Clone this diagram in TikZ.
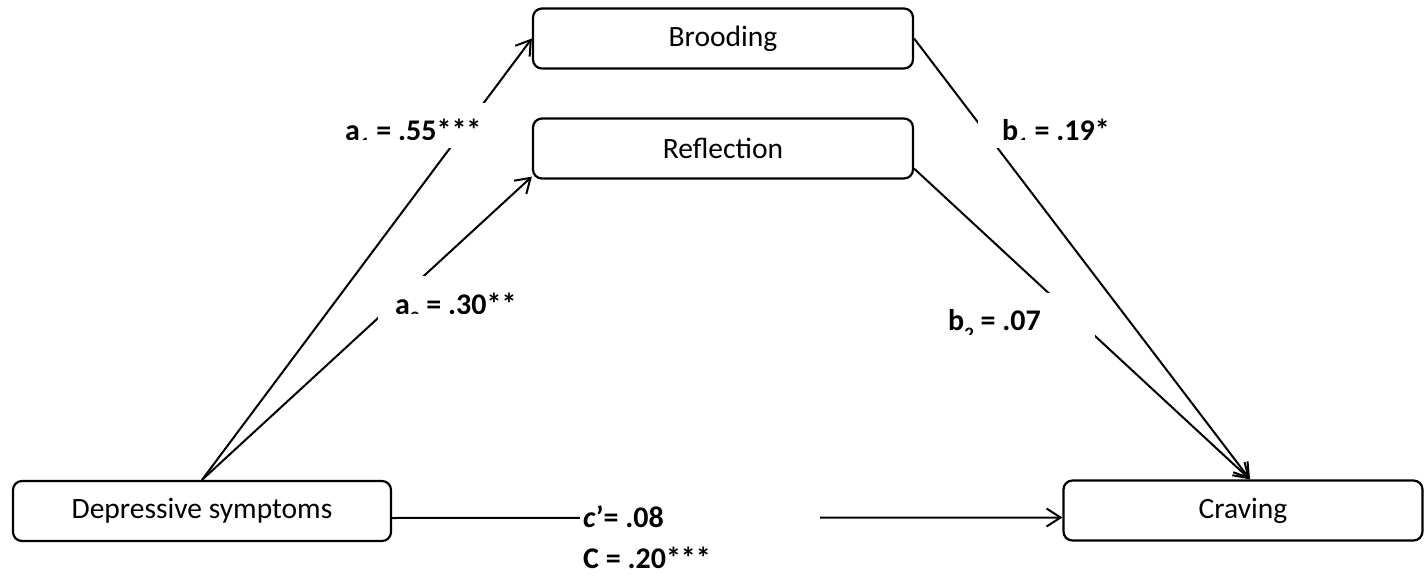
\documentclass[tikz,border=0pt]{standalone}
\usepackage{fontspec}
\setmainfont{Carlito}
\usetikzlibrary{arrows.meta,calc}
\newcommand\lsub[1]{\raisebox{-10pt}{\fontsize{19}{20}\selectfont #1}}
\begin{document}
\begin{tikzpicture}[x=1pt,y=-1pt,
  box/.style={draw,line width=2.2pt,rounded corners=9pt,minimum height=60pt,inner sep=0pt,font=\fontsize{29.5}{31}\selectfont},
  conn/.style={line width=2pt,-{Straight Barb[length=14pt,width=18pt,line width=2pt]}},
  lbl/.style={anchor=base west,inner sep=0pt,font=\bfseries\fontsize{30}{32}\selectfont},
  mask/.style={fill=white}]
\useasboundingbox (0,0) rectangle (1425,583);
\node[box,minimum width=378pt] (dep) at (202,511) {Depressive symptoms};
\node[box,minimum width=380pt] (brood) at (723,38.5) {Brooding};
\node[box,minimum width=380pt] (refl) at (723,148.5) {Reflection};
\node[box,minimum width=359pt] (crav) at (1243,510.5) {Craving};
\coordinate (ctop) at ($(crav.north)+(7,0)$);
\draw[conn] (dep.north) -- (brood.west);
\draw[conn] (dep.north) -- ($(refl.south west)+(0,-3)$);
\draw[conn] (brood.east) -- (ctop);
\draw[conn] ($(refl.south east)+(0,-11)$) -- (ctop);
\draw[conn] ($(dep.east)+(0,7)$) -- ($(crav.west)+(0,7)$);
% a1
\fill[mask] (338,103) rectangle (493,148);
\begin{scope}\clip (338,103) rectangle (493,140);
\node[lbl] (la1) at (345,141) {a\lsub{1} = .55***};\end{scope}
% b1
\fill[mask] (978,103) rectangle (1130,148);
\begin{scope}\clip (978,103) rectangle (1130,140);
\node[lbl] (lb1) at (1002,141) {b\lsub{1} = .19*};\end{scope}
% a2
\fill[mask] (378,276) rectangle (520,321);
\begin{scope}\clip (378,276) rectangle (520,313);
\node[lbl] (la2) at (395,314) {a\lsub{2} = .30**};\end{scope}
% b2
\fill[mask] (940,293) rectangle (1095,338);
\begin{scope}\clip (940,293) rectangle (1095,334);
\node[lbl] (lb2) at (948,330) {b\lsub{2} = .07};\end{scope}
% c
\fill[mask] (580,490) rectangle (820,540);
\node[lbl] (lc1) at (583,527) {\textit{c}’= .08};
\node[lbl] (lc2) at (583,568) {C = .20***};
\end{tikzpicture}
\end{document}
